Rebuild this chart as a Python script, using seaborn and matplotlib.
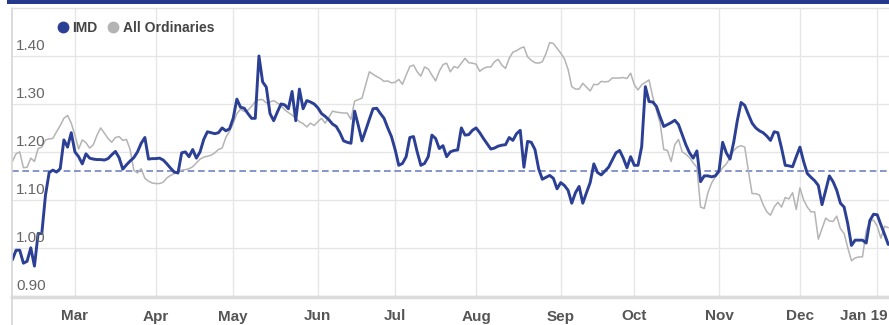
import numpy as np
import pandas as pd
import matplotlib
matplotlib.use("Agg")
import matplotlib.pyplot as plt
import seaborn as sns
from matplotlib.lines import Line2D
from matplotlib.patches import Rectangle
from matplotlib.transforms import ScaledTranslation

# Relative price of IMD vs the All Ordinaries, one value per trading day
start_date = "2018-02-06"

imd = [
    0.975, 0.995, 0.995, 0.968, 0.972, 1.000, 0.962, 1.030, 1.030, 1.110,
    1.157, 1.162, 1.158, 1.165, 1.225, 1.210, 1.240, 1.200, 1.190, 1.175,
    1.196, 1.187, 1.185, 1.184, 1.184, 1.183, 1.186, 1.194, 1.201, 1.188,
    1.164, 1.173, 1.181, 1.188, 1.200, 1.218, 1.230, 1.185, 1.186, 1.186,
    1.187, 1.183, 1.175, 1.166, 1.158, 1.156, 1.198, 1.200, 1.190, 1.205,
    1.187, 1.200, 1.226, 1.242, 1.240, 1.238, 1.240, 1.250, 1.244, 1.248,
    1.270, 1.310, 1.293, 1.291, 1.280, 1.270, 1.270, 1.400, 1.346, 1.335,
    1.280, 1.265, 1.283, 1.300, 1.298, 1.290, 1.326, 1.265, 1.331, 1.290,
    1.307, 1.304, 1.300, 1.292, 1.280, 1.274, 1.267, 1.258, 1.253, 1.240,
    1.223, 1.220, 1.218, 1.285, 1.255, 1.223, 1.245, 1.268, 1.290, 1.291,
    1.280, 1.270, 1.250, 1.232, 1.205, 1.172, 1.176, 1.190, 1.230, 1.232,
    1.200, 1.172, 1.176, 1.190, 1.235, 1.228, 1.207, 1.213, 1.190, 1.200,
    1.203, 1.204, 1.250, 1.235, 1.236, 1.245, 1.250, 1.240, 1.228, 1.217,
    1.206, 1.208, 1.212, 1.214, 1.215, 1.230, 1.224, 1.238, 1.245, 1.168,
    1.222, 1.220, 1.205, 1.165, 1.143, 1.147, 1.151, 1.145, 1.123, 1.136,
    1.130, 1.120, 1.093, 1.115, 1.128, 1.093, 1.115, 1.136, 1.175, 1.157,
    1.152, 1.160, 1.168, 1.183, 1.198, 1.203, 1.187, 1.167, 1.190, 1.172,
    1.172, 1.211, 1.336, 1.305, 1.304, 1.295, 1.273, 1.253, 1.257, 1.261,
    1.266, 1.257, 1.236, 1.215, 1.198, 1.187, 1.202, 1.138, 1.150, 1.150,
    1.148, 1.150, 1.160, 1.220, 1.198, 1.185, 1.220, 1.266, 1.303, 1.297,
    1.278, 1.260, 1.250, 1.244, 1.240, 1.233, 1.224, 1.242, 1.240, 1.208,
    1.172, 1.171, 1.169, 1.190, 1.210, 1.180, 1.155, 1.147, 1.140, 1.130,
    1.090, 1.120, 1.150, 1.138, 1.120, 1.093, 1.085, 1.050, 1.005, 1.016,
    1.016, 1.016, 1.010, 1.057, 1.070, 1.069, 1.048, 1.028, 1.007,
]

all_ords = [
    1.180, 1.196, 1.200, 1.167, 1.168, 1.187, 1.180, 1.207, 1.210, 1.225,
    1.227, 1.228, 1.242, 1.255, 1.270, 1.276, 1.260, 1.235, 1.206, 1.225,
    1.219, 1.208, 1.215, 1.235, 1.250, 1.239, 1.228, 1.220, 1.230, 1.232,
    1.224, 1.226, 1.205, 1.162, 1.156, 1.165, 1.145, 1.139, 1.135, 1.134,
    1.134, 1.137, 1.146, 1.151, 1.155, 1.160, 1.162, 1.163, 1.165, 1.169,
    1.177, 1.185, 1.189, 1.191, 1.193, 1.198, 1.205, 1.208, 1.230, 1.243,
    1.259, 1.280, 1.289, 1.284, 1.287, 1.295, 1.305, 1.309, 1.309, 1.302,
    1.304, 1.307, 1.302, 1.296, 1.288, 1.282, 1.277, 1.270, 1.263, 1.259,
    1.252, 1.260, 1.255, 1.263, 1.270, 1.260, 1.272, 1.285, 1.283, 1.282,
    1.281, 1.281, 1.268, 1.306, 1.309, 1.312, 1.340, 1.367, 1.362, 1.357,
    1.353, 1.347, 1.348, 1.344, 1.345, 1.351, 1.341, 1.360, 1.378, 1.381,
    1.367, 1.358, 1.377, 1.373, 1.360, 1.348, 1.368, 1.382, 1.385, 1.367,
    1.378, 1.375, 1.385, 1.395, 1.386, 1.385, 1.383, 1.368, 1.374, 1.377,
    1.377, 1.388, 1.393, 1.381, 1.374, 1.395, 1.408, 1.411, 1.416, 1.419,
    1.398, 1.391, 1.386, 1.385, 1.388, 1.405, 1.428, 1.426, 1.416, 1.406,
    1.394, 1.372, 1.336, 1.331, 1.331, 1.343, 1.335, 1.327, 1.341, 1.340,
    1.347, 1.346, 1.347, 1.354, 1.354, 1.354, 1.355, 1.353, 1.364, 1.340,
    1.329, 1.340, 1.345, 1.350, 1.315, 1.287, 1.260, 1.205, 1.203, 1.180,
    1.215, 1.226, 1.200, 1.195, 1.188, 1.177, 1.168, 1.085, 1.082, 1.115,
    1.135, 1.148, 1.157, 1.167, 1.175, 1.188, 1.203, 1.210, 1.213, 1.210,
    1.160, 1.113, 1.113, 1.110, 1.090, 1.075, 1.068, 1.085, 1.095, 1.085,
    1.105, 1.102, 1.115, 1.080, 1.125, 1.100, 1.085, 1.075, 1.075, 1.018,
    1.040, 1.062, 1.056, 1.055, 1.066, 1.040, 1.030, 1.000, 0.973, 0.979,
    0.981, 0.981, 1.035, 1.055, 1.058, 1.045, 1.020, 1.045, 1.042,
]

series_names = ["IMD", "All Ordinaries"]
month_labels = ["Mar", "Apr", "May", "Jun", "Jul", "Aug", "Sep", "Oct",
                "Nov", "Dec", "Jan 19"]
y_ticks = [0.90, 1.00, 1.10, 1.20, 1.30, 1.40]
reference_level = 1.16

IMD_COLOR = "#2b3f94"
AO_COLOR = "#b4b4b4"

# Trading-day axis: each weekday is one step
dates = pd.bdate_range(start_date, periods=len(imd))
pos = np.arange(len(dates))
df = pd.DataFrame({
    "pos": np.concatenate([pos, pos]),
    "value": imd + all_ords,
    "series": [series_names[0]] * len(imd) + [series_names[1]] * len(all_ords),
})

# First trading day of each month gets a tick
month_start = [i for i in range(1, len(dates)) if dates[i].month != dates[i - 1].month]

sns.set_theme(style="white")
plt.rcParams["font.family"] = ["Liberation Sans", "DejaVu Sans"]

W, H = 889, 325
fig = plt.figure(figsize=(W / 100, H / 100), dpi=100)
ax = fig.add_axes([12 / W, 1 - 297 / H, (W - 12) / W, 289 / H])

sns.lineplot(data=df[df.series == series_names[1]], x="pos", y="value",
             color=AO_COLOR, linewidth=1.1, ax=ax, legend=False)
sns.lineplot(data=df[df.series == series_names[0]], x="pos", y="value",
             color=IMD_COLOR, linewidth=2.1, ax=ax, legend=False)
ax.axhline(reference_level, color="#7283c4", lw=1.2, ls=(0, (4, 2.2)), zorder=1)

ax.set_xlim(-0.1, len(dates) - 0.8)
ax.set_ylim(0.8975, 1.50)
ax.set_xlabel("")
ax.set_ylabel("")

ax.set_xticks(month_start)
ax.set_xticklabels(month_labels[:len(month_start)], fontsize=11,
                   fontweight="bold", color="#555555")
ax.set_yticks(y_ticks)
ax.set_yticklabels([])
ax.tick_params(axis="both", length=0)
ax.tick_params(axis="x", pad=9)
ax.grid(True, color="#e6e6e6", lw=1)
ax.set_axisbelow(True)

# Keep the last month label inside the right edge
last = ax.get_xticklabels()[-1]
last.set_ha("right")
last.set_transform(last.get_transform() + ScaledTranslation(10 / 100, 0, fig.dpi_scale_trans))

for v in y_ticks:
    ax.annotate(f"{v:.2f}", xy=(0, v), xycoords=("axes fraction", "data"),
                xytext=(3, 2), textcoords="offset points", ha="left",
                va="bottom", fontsize=11, color="#666666")

for side in ["left", "top", "right"]:
    ax.spines[side].set_visible(False)
ax.spines["bottom"].set_color("#dcdcdc")
ax.spines["bottom"].set_linewidth(2.5)

# Frame and header bar
fig.add_artist(Line2D([12 / W, 12 / W], [0, 1 - 8 / H], transform=fig.transFigure,
                      color="#d6d6d6", lw=1.2))
fig.add_artist(Line2D([12 / W, 1], [1 - 8 / H, 1 - 8 / H], transform=fig.transFigure,
                      color="#e0e0e0", lw=1.0))
fig.add_artist(Rectangle((7 / W, 1 - 4 / H), 1, 4 / H, transform=fig.transFigure,
                         color="#24398d", lw=0))

handles = [Line2D([], [], marker="o", ls="", color=IMD_COLOR, markersize=7.5),
           Line2D([], [], marker="o", ls="", color=AO_COLOR, markersize=7.5)]
leg = fig.legend(handles, series_names, ncol=2, loc="upper left",
                 bbox_to_anchor=(51 / W, 1 - 14 / H), frameon=False,
                 borderpad=0, handlelength=0.7, handletextpad=0.35,
                 columnspacing=0.75, prop={"weight": "bold", "size": 10})
for t in leg.get_texts():
    t.set_color("#444444")

fig.savefig("out.png", dpi=100)
